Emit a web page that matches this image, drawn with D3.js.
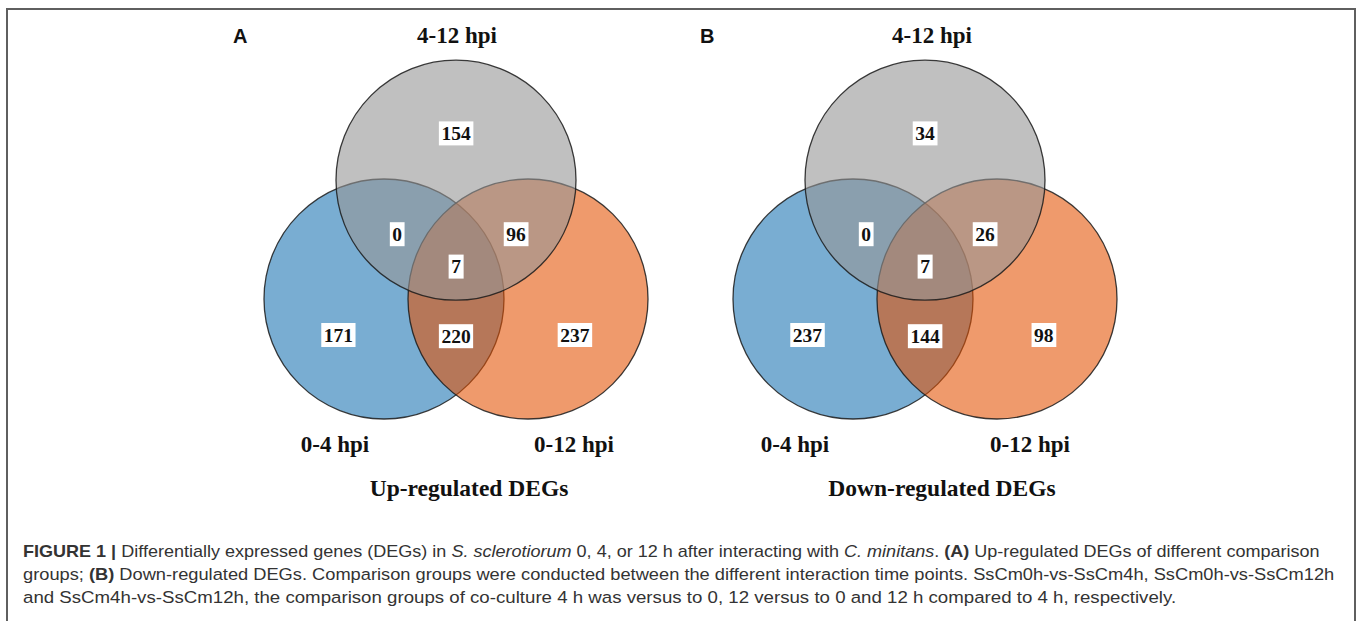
<!DOCTYPE html>
<html lang="en">
<head>
	<meta charset="utf-8">
	<title>DEGs Venn diagrams</title>
	<script type="text/javascript" src="https://cdn.jsdelivr.net/npm/d3@7/dist/d3.min.js"></script>
</head>
<style type="text/css">
	body{ margin:0; background:#fff; }
	.venn-label{ font-family:"Liberation Serif","Times New Roman",serif; font-weight:bold; fill:#111; }
	.num{ font-family:"Liberation Serif","Times New Roman",serif; font-weight:bold; font-size:19.5px; fill:#111; }
	.caption{ font-family:"Liberation Sans Narrow","Arial Narrow","Liberation Sans",Arial,sans-serif; font-size:17px; fill:#333; }
</style>
<body>
<div id="vizContainer"></div>
<script type="text/javascript">
// -----------PART 1: THE DATA-----------
var panelLetters = ["A", "B"];
var panelTitles = ["Up-regulated DEGs", "Down-regulated DEGs"];
var setNames = ["0-4 hpi", "0-12 hpi", "4-12 hpi"];
// regions: only 4-12, 4-12&0-4, 4-12&0-12, all three, only 0-4, 0-4&0-12, only 0-12
var regionNames = ["4-12", "0-4 & 4-12", "0-12 & 4-12", "all", "0-4", "0-4 & 0-12", "0-12"];
var upCounts = [154, 0, 96, 7, 171, 220, 237];
var downCounts = [34, 0, 26, 7, 237, 144, 98];
var panelCounts = [upCounts, downCounts];

// -----------PART 2: THE CANVAS-----------
var width = 1357;
var height = 621;
var svgCanvas = d3.select("#vizContainer").append("svg")
	.attr("width", width)
	.attr("height", height);

// frame around the figure
svgCanvas.append("path")
	.attr("d", "M7,660 L7,9 L1355,9 L1355,660")
	.attr("fill", "none")
	.attr("stroke", "#5f5f5f")
	.attr("stroke-width", 2);

// layout in "venn units" (1 unit = one radius)
var radius = 120;
var panelOrigins = [456, 925]; // x of middle point between lower circle centres
var originY = 299;
var circleUnits = [
	{set: 0, x: -0.6, y: 0, fill: "rgb(31,119,180)", op: 0.6},
	{set: 1, x: 0.6, y: 0, fill: "rgb(227,79,0)", op: 0.575},
	{set: 2, x: 0, y: -0.99, fill: "rgb(150,150,150)", op: 0.6}
];
var regionUnits = [[0, -1.38], [-0.49, -0.54], [0.5, -0.54], [0, -0.27], [-0.98, 0.3], [0, 0.31], [0.99, 0.3]];
// label offsets per panel (pixels from origin)
var labelPos = [
	{top: 1, left: -121, right: 118, title: 13, letter: -223},
	{top: 7, left: -130, right: 105, title: 17, letter: -225}
];

// -----------PART 3: DRAWING-----------
panelLetters.forEach(function(letter, p){
	var ox = panelOrigins[p];
	var xScale = d3.scaleLinear().domain([-1, 1]).range([ox - radius, ox + radius]);
	var yScale = d3.scaleLinear().domain([-1, 1]).range([originY - radius, originY + radius]);
	var g = svgCanvas.append("g").attr("class", "panel");

	g.selectAll("circle")
		.data(circleUnits)
		.enter()
		.append("circle")
		.attr("cx", function(d){ return xScale(d.x); })
		.attr("cy", function(d){ return yScale(d.y); })
		.attr("r", xScale(1) - xScale(0))
		.attr("fill", function(d){ return d.fill; })
		.attr("fill-opacity", function(d){ return d.op; })
		.attr("stroke", "#1a1a1a")
		.attr("stroke-opacity", 0.85)
		.attr("stroke-width", 1.3);

	var nums = g.selectAll("g.num")
		.data(panelCounts[p])
		.enter()
		.append("g")
		.attr("class", "num")
		.attr("transform", function(d, i){
			return "translate(" + xScale(regionUnits[i][0]) + "," + yScale(regionUnits[i][1]) + ")";
		});
	nums.append("rect").attr("fill", "#fff");
	nums.append("text")
		.attr("class", "num")
		.attr("text-anchor", "middle")
		.attr("dy", "0.35em")
		.text(function(d){ return d; });
	nums.each(function(){
		var t = d3.select(this).select("text").node().getBBox();
		d3.select(this).select("rect")
			.attr("x", t.x - 2.5).attr("y", -12)
			.attr("width", t.width + 5).attr("height", 24);
	});

	var lp = labelPos[p];
	g.append("text").attr("class", "venn-label")
		.attr("x", ox + lp.top).attr("y", 43)
		.attr("text-anchor", "middle").style("font-size", "23px")
		.text(setNames[2]);
	g.append("text").attr("class", "venn-label")
		.attr("x", ox + lp.left).attr("y", 452)
		.attr("text-anchor", "middle").style("font-size", "23px")
		.text(setNames[0]);
	g.append("text").attr("class", "venn-label")
		.attr("x", ox + lp.right).attr("y", 452)
		.attr("text-anchor", "middle").style("font-size", "23px")
		.text(setNames[1]);
	g.append("text").attr("class", "venn-label")
		.attr("x", ox + lp.title).attr("y", 496)
		.attr("text-anchor", "middle").style("font-size", "23.5px")
		.text(panelTitles[p]);
	g.append("text")
		.attr("x", ox + lp.letter).attr("y", 43)
		.style("font-family", "'Liberation Sans',Arial,sans-serif")
		.style("font-weight", "bold").style("font-size", "20px")
		.attr("fill", "#111")
		.text(letter);
});

// caption, three lines; each run = [text, style]
var captionLines = [
	[["FIGURE 1 | ", "b"], ["Differentially expressed genes (DEGs) in ", ""], ["S. sclerotiorum", "i"],
	 [" 0, 4, or 12 h after interacting with ", ""], ["C. minitans", "i"], [". ", ""], ["(A)", "b"],
	 [" Up-regulated DEGs of different comparison", ""]],
	[["groups; ", ""], ["(B)", "b"], [" Down-regulated DEGs. Comparison groups were conducted between the different interaction time points. SsCm0h-vs-SsCm4h, SsCm0h-vs-SsCm12h", ""]],
	[["and SsCm4h-vs-SsCm12h, the comparison groups of co-culture 4 h was versus to 0, 12 versus to 0 and 12 h compared to 4 h, respectively.", ""]]
];
var captionRight = [1320, 1336, 1177];
var captionLeft = 23;

captionLines.forEach(function(runs, i){
	var t = svgCanvas.append("text")
		.attr("class", "caption")
		.attr("x", 0).attr("y", 0);
	t.selectAll("tspan")
		.data(runs)
		.enter()
		.append("tspan")
		.style("font-weight", function(d){ return d[1] == "b" ? "bold" : "normal"; })
		.style("font-style", function(d){ return d[1] == "i" ? "italic" : "normal"; })
		.attr("xml:space", "preserve")
		.text(function(d){ return d[0]; });
	var w = t.node().getComputedTextLength();
	var sx = (captionRight[i] - captionLeft) / w;
	t.attr("transform", "translate(" + captionLeft + "," + (557 + i * 23) + ") scale(" + sx + ",1)");
});
</script>
</body>
</html>
